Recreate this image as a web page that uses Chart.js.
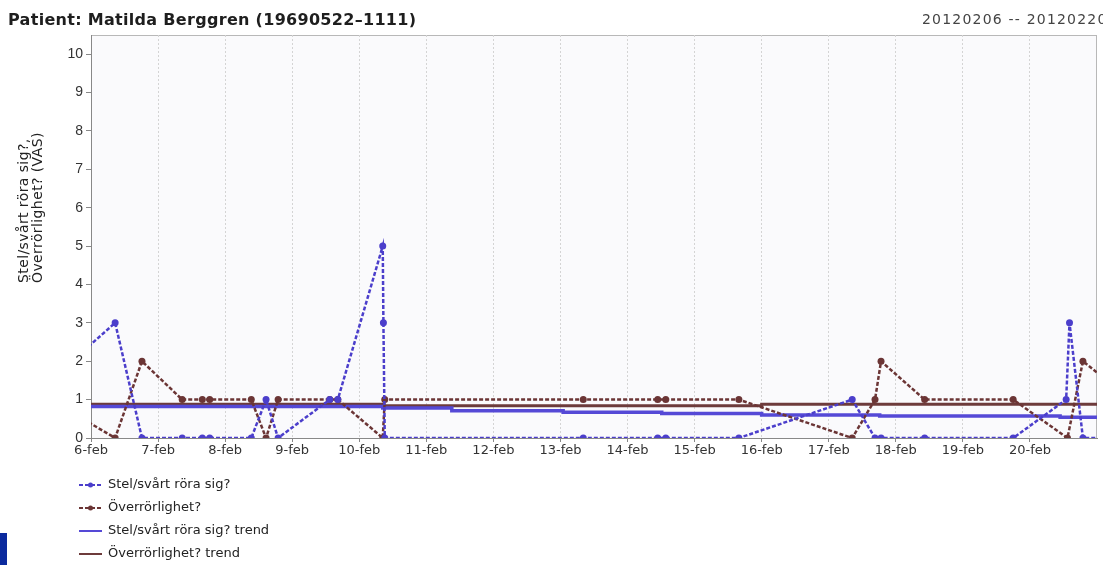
<!DOCTYPE html>
<html>
<head>
<meta charset="utf-8">
<script src="https://cdn.jsdelivr.net/npm/chart.js@4/dist/chart.umd.min.js"></script>
<style>
  html, body { margin: 0; padding: 0; background: #fff; }
  #wrap { position: relative; width: 1103px; height: 565px; overflow: hidden; }
  #blueBlock { position: absolute; left: 0; top: 533px; width: 7px; height: 32px; background: #0b2a9e; }
</style>
</head>
<body>
<div id="wrap">
  <canvas id="vasChart" width="1103" height="565"></canvas>
  <div id="blueBlock"></div>
</div>
<script>
// x values are days counted from 6-feb 00:00
const dayLabels = ["6-feb", "7-feb", "8-feb", "9-feb", "10-feb", "11-feb", "12-feb", "13-feb",
  "14-feb", "15-feb", "16-feb", "17-feb", "18-feb", "19-feb", "20-feb"];

const stelDays = [-1.58, 0.36, 0.76, 1.36, 1.66, 1.77, 2.39, 2.61, 2.79, 3.56, 3.68, 4.35, 4.36, 4.38,
  7.34, 8.45, 8.57, 9.66, 11.35, 11.69, 11.78, 12.43, 13.75, 14.54, 14.59, 14.79, 15.5];
const stelValues = [0, 3, 0, 0, 0, 0, 0, 1, 0, 1, 1, 5, 3, 0,
  0, 0, 0, 0, 1, 0, 0, 0, 0, 1, 3, 0, 0];

const overDays = [-1.58, 0.36, 0.76, 1.36, 1.66, 1.77, 2.39, 2.61, 2.79, 3.56, 3.68, 4.35, 4.38,
  7.34, 8.45, 8.57, 9.66, 11.35, 11.69, 11.78, 12.43, 13.75, 14.56, 14.79, 15.5];
const overValues = [2, 0, 2, 1, 1, 1, 1, 0, 1, 1, 1, 0, 1,
  1, 1, 1, 1, 0, 1, 2, 1, 1, 0, 2, 1];

const stelTrendDays = [0, 4.35, 5.38, 7.04, 8.51, 10.0, 11.76, 14.45, 15];
const stelTrendValues = [0.82, 0.78, 0.71, 0.67, 0.64, 0.60, 0.57, 0.54, 0.54];

const overTrendDays = [0, 4.35, 10.0, 15];
const overTrendValues = [0.88, 0.84, 0.88, 0.88];

const toPoints = (xs, ys) => xs.map((x, i) => ({ x: x, y: ys[i] }));

const BLUE = "#4b3ecb";
const BROWN = "#6b3535";

const chromePlugin = {
  id: "chrome",
  beforeDraw(chart) {
    const { ctx, chartArea: a } = chart;
    ctx.save();
    ctx.fillStyle = "#fafafc";
    ctx.fillRect(a.left, a.top, a.right - a.left, a.bottom - a.top);
    ctx.strokeStyle = "#b8b8b8";
    ctx.lineWidth = 1;
    ctx.strokeRect(a.left + 0.5, a.top + 0.5, a.right - a.left - 1, a.bottom - a.top);
    ctx.restore();
  },
  afterDraw(chart) {
    const ctx = chart.ctx;
    ctx.save();
    // header
    ctx.fillStyle = "#1e1e1e";
    ctx.font = "bold 16px 'DejaVu Sans'";
    ctx.letterSpacing = "0.3px";
    ctx.textBaseline = "alphabetic";
    ctx.fillText("Patient: Matilda Berggren (19690522\u20131111)", 8, 25);
    ctx.fillStyle = "#444";
    ctx.font = "14px 'DejaVu Sans'";
    ctx.letterSpacing = "1.2px";
    ctx.fillText("20120206 -- 20120220", 922, 24);

    // y axis title, two lines, start aligned at the bottom
    ctx.save();
    ctx.translate(0, 283);
    ctx.rotate(-Math.PI / 2);
    ctx.fillStyle = "#222";
    ctx.font = "14px 'DejaVu Sans'";
    ctx.letterSpacing = "0.4px";
    ctx.textAlign = "left";
    ctx.textBaseline = "middle";
    ctx.fillText("Stel/sv\u00e5rt r\u00f6ra sig?,", 0, 24);
    ctx.fillText("\u00d6verr\u00f6rlighet? (VAS)", 0, 38);
    ctx.restore();

    // legend
    ctx.letterSpacing = "0px";
    const rows = [485, 508, 531, 554];
    chart.data.datasets.forEach((ds, i) => {
      const y = rows[i];
      ctx.strokeStyle = ds.borderColor;
      ctx.lineWidth = 2;
      ctx.setLineDash(ds.borderDash || []);
      ctx.beginPath();
      ctx.moveTo(79, y);
      ctx.lineTo(102, y);
      ctx.stroke();
      ctx.setLineDash([]);
      if (ds.pointRadius > 0) {
        ctx.fillStyle = ds.borderColor;
        ctx.beginPath();
        ctx.arc(90.5, y, 2.5, 0, Math.PI * 2);
        ctx.fill();
      }
      ctx.fillStyle = "#222";
      ctx.font = "13px 'DejaVu Sans'";
      ctx.textBaseline = "middle";
      ctx.fillText(ds.label, 108, y);
    });
    ctx.restore();
  }
};

new Chart(document.getElementById("vasChart").getContext("2d"), {
  type: "line",
  data: {
    datasets: [{
      label: "Stel/sv\u00e5rt r\u00f6ra sig?",
      data: toPoints(stelDays, stelValues),
      borderColor: BLUE,
      backgroundColor: BLUE,
      borderWidth: 2.5,
      borderDash: [4, 2],
      pointRadius: 3.5,
      pointBorderWidth: 0,
      pointBackgroundColor: BLUE,
      tension: 0,
    }, {
      label: "\u00d6verr\u00f6rlighet?",
      data: toPoints(overDays, overValues),
      borderColor: BROWN,
      backgroundColor: BROWN,
      borderWidth: 2.5,
      borderDash: [4, 2],
      pointRadius: 3.5,
      pointBorderWidth: 0,
      pointBackgroundColor: BROWN,
      tension: 0,
    }, {
      label: "Stel/sv\u00e5rt r\u00f6ra sig? trend",
      data: toPoints(stelTrendDays, stelTrendValues),
      borderColor: "#5549d6",
      borderWidth: 3.5,
      pointRadius: 0,
      stepped: true,
    }, {
      label: "\u00d6verr\u00f6rlighet? trend",
      data: toPoints(overTrendDays, overTrendValues),
      borderColor: "#6d3b3b",
      borderWidth: 3,
      pointRadius: 0,
      stepped: true,
    }]
  },
  options: {
    responsive: false,
    animation: false,
    devicePixelRatio: 1,
    layout: { padding: { top: 35, right: 6, left: 0, bottom: 0 } },
    plugins: { legend: { display: false }, tooltip: { enabled: false } },
    scales: {
      x: {
        type: "linear",
        min: 0,
        max: 15,
        afterFit(scale) { scale.height = 127; },
        afterBuildTicks(scale) {
          scale.ticks = scale.ticks.filter(t => Number.isInteger(t.value) && t.value < 15);
        },
        ticks: {
          stepSize: 1,
          autoSkip: false,
          maxRotation: 0,
          padding: 1,
          color: "#333",
          font: { family: "DejaVu Sans", size: 13 },
          callback: (v) => dayLabels[v] || ""
        },
        grid: { color: "#d4d4d4", tickLength: 4, tickColor: "#888", tickBorderDash: [] },
        border: { color: "#888", dash: [2, 2] }
      },
      y: {
        min: 0,
        max: 10.5,
        afterFit(scale) { scale.width = 91; },
        afterBuildTicks(scale) {
          scale.ticks = scale.ticks.filter(t => Number.isInteger(t.value));
        },
        ticks: {
          stepSize: 1,
          padding: 3,
          color: "#333",
          font: { family: "Liberation Sans", size: 14 }
        },
        grid: { drawOnChartArea: false, tickLength: 5, tickColor: "#888" },
        border: { color: "#888" }
      }
    }
  },
  plugins: [chromePlugin]
});
</script>
</body>
</html>
